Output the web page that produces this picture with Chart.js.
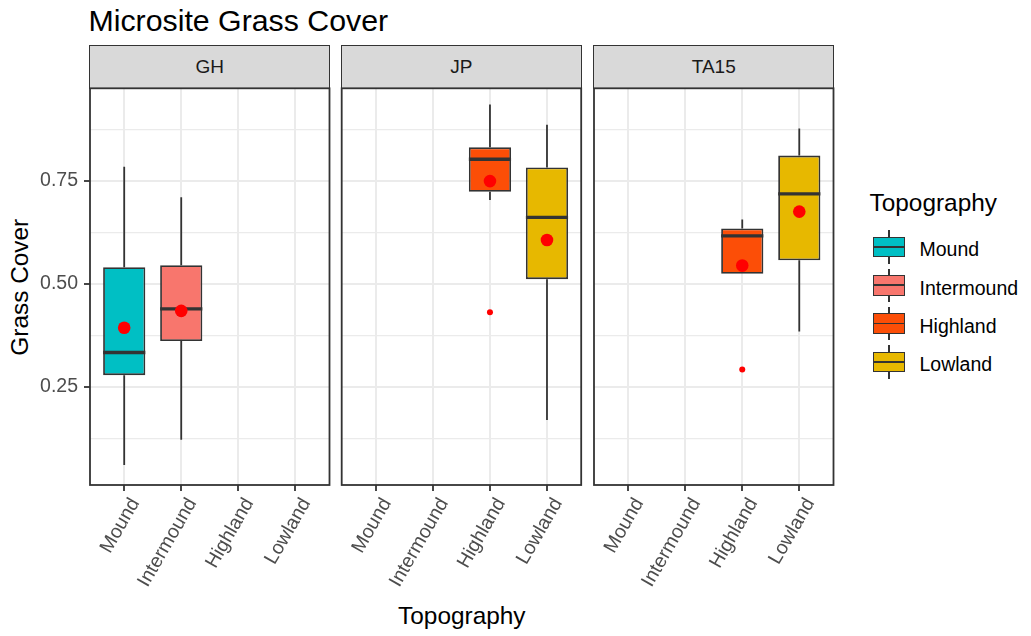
<!DOCTYPE html>
<html>
<head>
<meta charset="utf-8">
<title>Microsite Grass Cover</title>
<script src="https://cdn.jsdelivr.net/npm/chart.js@4.4.1/dist/chart.umd.min.js"></script>
<style>
  body { margin: 0; background: #fff; }
  #page { position: relative; width: 1031px; height: 636px; overflow: hidden; font-family: "Liberation Sans", Arial, sans-serif; }
  #page canvas, .txt, .strip, .kpart { position: absolute; }
  .txt { line-height: 1; white-space: nowrap; }
  .strip { box-sizing: border-box; background: #d9d9d9; border: 1.8px solid #333; color: #1a1a1a; font-size: 19px; display: flex; align-items: center; justify-content: center; }
</style>
</head>
<body>
<div id="page">
  <div class="txt" style="left:88.5px;top:6px;font-size:30.3px;color:#000">Microsite Grass Cover</div>
  <div class="txt" style="left:-80.45px;top:274.8px;width:200px;height:24.4px;text-align:center;font-size:24.4px;color:#000;transform:rotate(-90deg)">Grass Cover</div>
  <div class="txt" style="left:311.8px;top:603.8px;width:300px;text-align:center;font-size:24.4px;color:#000">Topography</div>
  <div class="txt" style="left:869.5px;top:190.8px;font-size:24.4px;color:#000">Topography</div>
</div>
<script>
// categories
const sites = ['GH', 'JP', 'TA15'];
const topoLevels = ['Mound', 'Intermound', 'Highland', 'Lowland'];
const topoColors = ['#00BFC4', '#F8766D', '#FC4E07', '#E7B800'];

// one entry per box
const boxSite = ['GH', 'GH', 'JP', 'JP', 'TA15', 'TA15'];
const boxTopo = ['Mound', 'Intermound', 'Highland', 'Lowland', 'Highland', 'Lowland'];
const whiskerLow  = [0.060, 0.121, 0.703, 0.169, 0.524, 0.384];
const q1          = [0.278, 0.361, 0.723, 0.511, 0.524, 0.557];
const median      = [0.333, 0.439, 0.802, 0.661, 0.616, 0.718];
const q3          = [0.540, 0.545, 0.831, 0.782, 0.634, 0.811];
const whiskerHigh = [0.784, 0.710, 0.935, 0.886, 0.656, 0.877];
const meanValue   = [0.393, 0.434, 0.749, 0.606, 0.544, 0.675];

// outliers
const outlierSite = ['JP', 'TA15'];
const outlierTopo = ['Highland', 'Highland'];
const outlierValue = [0.431, 0.292];

// y axis
const yTicks = [0.25, 0.50, 0.75];
const yMinorTicks = [0.125, 0.375, 0.625, 0.875];
const yMin = 0.0114, yMax = 0.9743;

// layout
const BOX_W = 0.74;
const panelLeft = [90, 341.7, 594];
const panelWidth = 239.5;
const panelTop = 88.3, panelBottom = 485;
const canvasTop = 86, canvasBottom = 600;
const FONT = 'Liberation Sans';
const page = document.getElementById('page');

const isMajor = v => yTicks.some(t => Math.abs(t - v) < 1e-9);
const xOf = t => topoLevels.indexOf(t) + 1;
// keep chart.js from nudging the plot area for label overhang
const noPad = s => { s.paddingLeft = 0; s.paddingRight = 0; s.paddingTop = 0; s.paddingBottom = 0; };

const panelBorder = {
  id: 'panelBorder',
  afterDraw(chart) {
    const a = chart.chartArea, ctx = chart.ctx;
    ctx.save();
    ctx.strokeStyle = '#333333';
    ctx.lineWidth = 1.8;
    ctx.strokeRect(a.left, a.top, a.right - a.left, a.bottom - a.top);
    ctx.restore();
  }
};

sites.forEach((site, p) => {
  const pl = panelLeft[p];
  const first = p === 0;
  const canvasLeft = first ? 0 : Math.floor(pl - 20);
  const yAxisW = first ? pl : 0;
  const padL = first ? 0 : pl - canvasLeft;
  const w = Math.ceil(padL + yAxisW + panelWidth + 3);
  const padR = w - padL - yAxisW - panelWidth;
  const h = canvasBottom - canvasTop;

  // facet strip
  const strip = document.createElement('div');
  strip.className = 'strip';
  strip.style.left = (pl - 0.9) + 'px';
  strip.style.top = '45.1px';
  strip.style.width = (panelWidth + 1.8) + 'px';
  strip.style.height = (panelTop - 45.1 + 0.9) + 'px';
  strip.textContent = site;
  page.appendChild(strip);

  const ids = boxSite.map((s, k) => (s === site ? k : -1)).filter(k => k >= 0);
  const boxes = ids.map(k => ({ x: xOf(boxTopo[k]), y: [q1[k], q3[k]] }));
  const boxFill = ids.map(k => topoColors[topoLevels.indexOf(boxTopo[k])]);
  const whiskers = [], medians = [];
  ids.forEach(k => {
    const x = xOf(boxTopo[k]);
    whiskers.push({ x, y: q3[k] }, { x, y: whiskerHigh[k] }, { x, y: null },
                  { x, y: q1[k] }, { x, y: whiskerLow[k] }, { x, y: null });
    medians.push({ x: x - BOX_W / 2, y: median[k] }, { x: x + BOX_W / 2, y: median[k] }, { x, y: null });
  });
  const means = ids.map(k => ({ x: xOf(boxTopo[k]), y: meanValue[k] }));
  const outs = outlierSite
    .map((s, k) => (s === site ? { x: xOf(outlierTopo[k]), y: outlierValue[k] } : null))
    .filter(Boolean);

  const cv = document.createElement('canvas');
  cv.width = w;
  cv.height = h;
  cv.style.left = canvasLeft + 'px';
  cv.style.top = canvasTop + 'px';
  page.appendChild(cv);

  new Chart(cv, {
    type: 'bar',
    data: {
      datasets: [
        { type: 'line', data: whiskers, borderColor: '#333333', borderWidth: 1.8, pointRadius: 0, fill: false, spanGaps: false, order: 5 },
        { type: 'bar', data: boxes, backgroundColor: boxFill, borderColor: '#333333', borderWidth: 1.8, borderSkipped: false,
          barPercentage: 1, categoryPercentage: BOX_W, order: 4 },
        { type: 'line', data: medians, borderColor: '#333333', borderWidth: 3.4, pointRadius: 0, fill: false, spanGaps: false,
          borderCapStyle: 'butt', order: 3 },
        { type: 'scatter', data: means, backgroundColor: '#FF0000', pointRadius: 6.3, borderWidth: 0, order: 2 },
        { type: 'scatter', data: outs, backgroundColor: '#FF0000', pointRadius: 3, borderWidth: 0, order: 1 }
      ]
    },
    options: {
      responsive: false,
      animation: false,
      events: [],
      layout: { autoPadding: false, padding: { left: padL, right: padR, top: panelTop - canvasTop, bottom: 0 } },
      plugins: { legend: { display: false }, tooltip: { enabled: false } },
      scales: {
        x: {
          type: 'linear', min: 0.4, max: 4.6, bounds: 'data', offset: false,
          afterBuildTicks: s => { s.ticks = topoLevels.map((_, k) => ({ value: k + 1 })); },
          afterFit: s => { s.height = canvasBottom - panelBottom; noPad(s); },
          grid: { offset: false, color: '#EBEBEB', lineWidth: 2, drawTicks: true, tickLength: 6, tickColor: '#333333', tickWidth: 1.8 },
          border: { display: false },
          ticks: { autoSkip: false, minRotation: 60, maxRotation: 60, padding: 3, labelOffset: 11,
                   color: '#4D4D4D', font: { family: FONT, size: 19.5 },
                   callback: v => topoLevels[v - 1] }
        },
        y: {
          type: 'linear', min: yMin, max: yMax, bounds: 'data',
          afterBuildTicks: s => { s.ticks = yMinorTicks.concat(yTicks).sort((a, b) => a - b).map(v => ({ value: v })); },
          afterFit: s => { s.width = yAxisW; noPad(s); },
          grid: {
            color: '#EBEBEB',
            lineWidth: ctx => (ctx.tick && isMajor(ctx.tick.value) ? 2 : 1.2),
            drawTicks: first, tickLength: 6, tickWidth: 1.8,
            tickColor: ctx => (ctx.tick && isMajor(ctx.tick.value) ? '#333333' : 'rgba(0,0,0,0)')
          },
          border: { display: false },
          ticks: { display: first, padding: 6, color: '#4D4D4D', font: { family: FONT, size: 19.5 },
                   callback: v => (isMajor(v) ? v.toFixed(2) : '') }
        }
      }
    },
    plugins: [panelBorder]
  });
});

// legend
topoLevels.forEach((t, k) => {
  const cy = 247 + 38.3 * k;
  const whisk = document.createElement('div');
  whisk.className = 'kpart';
  Object.assign(whisk.style, { left: '888.4px', top: (cy - 16.8) + 'px', width: '1.8px', height: '33.6px', background: '#333' });
  const box = document.createElement('div');
  box.className = 'kpart';
  Object.assign(box.style, { left: '873.3px', top: (cy - 10.3) + 'px', width: '31.7px', height: '20.6px',
    boxSizing: 'border-box', border: '1.8px solid #333', background: topoColors[k] });
  const mid = document.createElement('div');
  mid.className = 'kpart';
  Object.assign(mid.style, { left: '873.3px', top: (cy - 0.9) + 'px', width: '31.7px', height: '1.8px', background: '#333' });
  const lab = document.createElement('div');
  lab.className = 'txt';
  Object.assign(lab.style, { left: '919.5px', top: (256.7 + 38.3 * k - 16.5) + 'px', fontSize: '19.5px', color: '#000' });
  lab.textContent = t;
  page.append(whisk, box, mid, lab);
});
</script>
</body>
</html>
